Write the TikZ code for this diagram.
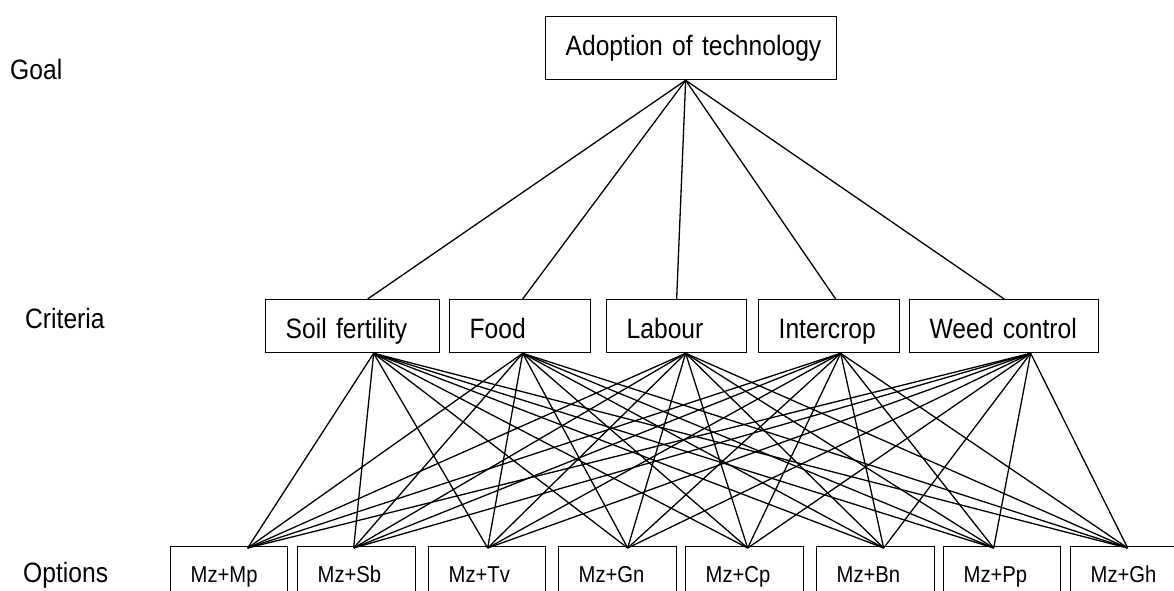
\documentclass[tikz,border=0pt]{standalone}
\usepackage{fontspec}
\setmainfont{Liberation Sans}[FakeStretch=0.88,WordSpace=0.8]
\begin{document}
\begin{tikzpicture}[x=1pt,y=-1pt,
  box/.style={draw=black,line width=1.3pt,anchor=north west,inner xsep=20pt,inner ysep=0pt,align=left,font=\fontsize{28}{33}\selectfont},
  optbox/.style={draw=black,line width=1.3pt,anchor=north west,inner xsep=20pt,inner ysep=0pt,align=left,font=\fontsize{23}{27}\selectfont,minimum height=54pt,text height=18pt,text depth=0pt},
  side/.style={anchor=base west,inner sep=0pt,font=\fontsize{28}{33}\selectfont},
  link/.style={draw=black,line width=1.3pt}]
\path[use as bounding box] (0,0) rectangle (1174,590);
\clip (0,0) rectangle (1174,590);
\fill[white] (0,0) rectangle (1174,590);
% side labels
\node[side] (lgoal) at (10,79) {Goal};
\node[side] (lcrit) at (25,328) {Criteria};
\node[side] (lopt) at (23,582) {Options};
% goal
\node[box,inner xsep=20pt,text width=251pt,minimum height=63pt,text height=20pt,text depth=5pt] (goal) at (545,16) {\mbox{Adoption of technology}};
% criteria
\node[box,text width=134pt,minimum height=53pt,text height=26pt,text depth=1pt] (soil) at (265,299) {\mbox{Soil fertility}};
\node[box,text width=101pt,minimum height=53pt,text height=26pt,text depth=1pt] (food) at (449,299) {Food};
\node[box,text width=100pt,minimum height=53pt,text height=26pt,text depth=1pt] (labour) at (606,299) {Labour};
\node[box,text width=101pt,minimum height=53pt,text height=26pt,text depth=1pt] (inter) at (758,299) {Intercrop};
\node[box,text width=149pt,minimum height=53pt,text height=26pt,text depth=1pt] (weed) at (909,299) {\mbox{Weed control}};
% options
\node[optbox,text width=77pt] (mp) at (170,546) {Mz+Mp};
\node[optbox,text width=78pt] (sb) at (297,546) {Mz+Sb};
\node[optbox,text width=77pt] (tv) at (428,546) {Mz+Tv};
\node[optbox,text width=78pt] (gn) at (558,546) {Mz+Gn};
\node[optbox,text width=78pt] (cp) at (685,546) {Mz+Cp};
\node[optbox,text width=78pt] (bn) at (816,546) {Mz+Bn};
\node[optbox,text width=77pt] (pp) at (943,546) {Mz+Pp};
\node[optbox,text width=77pt] (gh) at (1070,546) {Mz+Gh};
% goal to criteria
\foreach \c/\s in {soil/15,food/2.5,labour/0,inter/6.5,weed/0}
  \draw[link] ([xshift=-5.5pt]goal.south) -- ([xshift=\s pt]\c.north);
% criteria to options
\foreach \c/\cs in {soil/21,food/2.5,labour/9,inter/11.5,weed/26.5}
  \foreach \o/\os in {mp/18.5,sb/-3,tv/0.5,gn/10,cp/3,bn/8,pp/-8.5,gh/-1.5}
    \draw[link] ([xshift=\cs pt]\c.south) -- ([xshift=\os pt,yshift=-2pt]\o.north);
\end{tikzpicture}
\end{document}
